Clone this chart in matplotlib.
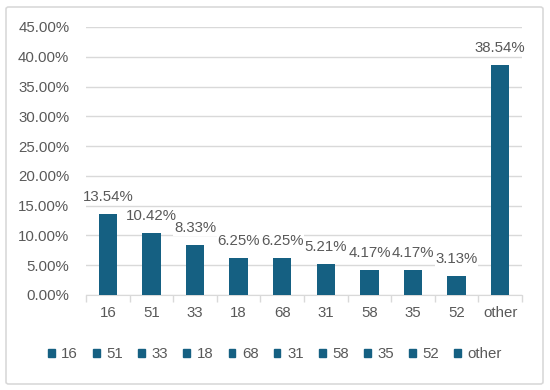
import matplotlib.pyplot as plt
from matplotlib.patches import FancyBboxPatch, Patch

categories = ["16", "51", "33", "18", "68", "31", "58", "35", "52", "other"]
shares = [13.54, 10.42, 8.33, 6.25, 6.25, 5.21, 4.17, 4.17, 3.13, 38.54]
yticks = [0, 5, 10, 15, 20, 25, 30, 35, 40, 45]

bar_color = "#156082"
text_color = "#595959"
grid_color = "#d9d9d9"
fs = 10.8

plt.rcParams["font.family"] = ["Liberation Sans", "DejaVu Sans"]

fig = plt.figure(figsize=(5.5, 3.9), dpi=100)
ax = fig.add_axes([86 / 550, 1 - 295 / 390, (522 - 86) / 550, (295 - 27) / 390])

x = range(len(categories))
bars = ax.bar(x, shares, width=0.42, color=bar_color, zorder=3)
for b, v in zip(bars, shares):
    ax.text(b.get_x() + b.get_width() / 2, v + 1.7, f"{v:.2f}%",
            ha="center", va="bottom", fontsize=fs, color=text_color, zorder=4,
            bbox=dict(facecolor="white", edgecolor="none", pad=0.5))

ax.set_xlim(-0.5, len(categories) - 0.5)
ax.set_ylim(0, 45)
ax.set_yticks(yticks)
ax.set_yticklabels([f"{t:.2f}%" for t in yticks], fontsize=fs, color=text_color)
ax.set_xticks(list(x))
ax.set_xticklabels(categories, fontsize=fs, color=text_color)
ax.set_xticks([i - 0.5 for i in range(len(categories) + 1)], minor=True)
ax.yaxis.grid(True, color=grid_color, linewidth=1, zorder=0)
ax.tick_params(axis="y", length=0, pad=12)
ax.tick_params(axis="x", which="major", length=0, pad=8)
ax.tick_params(axis="x", which="minor", length=5, color=grid_color, width=1)
for s in ["top", "right", "left"]:
    ax.spines[s].set_visible(False)
ax.spines["bottom"].set_color(grid_color)

handles = [Patch(color=bar_color, label=c) for c in categories]
leg = fig.legend(handles=handles, loc="center", bbox_to_anchor=(0.5, 1 - 354 / 390),
                 ncol=10, frameon=False, fontsize=fs, handlelength=0.45,
                 handleheight=0.45, handletextpad=0.45, columnspacing=1.0)
for t in leg.get_texts():
    t.set_color(text_color)

border = FancyBboxPatch((6 / 550, 6 / 390), 537 / 550, 377 / 390,
                        boxstyle="round,pad=0,rounding_size=0.005",
                        transform=fig.transFigure, fill=False,
                        edgecolor="#d9d9d9", linewidth=1.2)
fig.patches.append(border)

fig.savefig("out.png", dpi=100)
